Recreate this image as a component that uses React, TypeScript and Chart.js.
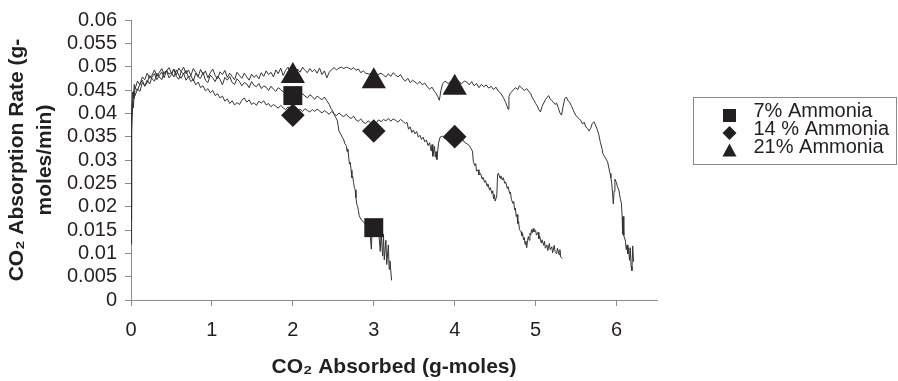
import React, { useEffect, useRef } from 'react';
import { Chart, registerables } from 'chart.js';

Chart.register(...registerables);

const FONT = "'Liberation Sans', Arial, Helvetica, sans-serif";
const INK = '#231f20';
const AXIS = '#8c8c8c';
const LINE = '#333333';

// Series labels
const seriesLabels = ['7% Ammonia', '14 % Ammonia', '21% Ammonia'];

// Continuous absorption-rate traces  [CO2 absorbed (g-moles), rate (g-moles/min)]
const trace7: [number, number][] = [
  [0, 0.012], [0.005, 0.024], [0.01, 0.036], [0.02, 0.0415], [0.03, 0.0448], [0.04, 0.0432],
  [0.05, 0.0455], [0.08, 0.0449], [0.11, 0.0463], [0.14, 0.0471], [0.17, 0.0458], [0.2, 0.0466], [0.23, 0.0481],
  [0.26, 0.0474], [0.29, 0.0469], [0.32, 0.0486], [0.35, 0.0478], [0.38, 0.0472], [0.41, 0.0488], [0.44, 0.0491],
  [0.47, 0.0476], [0.5, 0.0483], [0.53, 0.0495], [0.56, 0.0479], [0.59, 0.0473], [0.62, 0.0489], [0.65, 0.0484],
  [0.68, 0.0492], [0.71, 0.0477], [0.74, 0.0481], [0.77, 0.0469], [0.8, 0.0486], [0.83, 0.0478], [0.86, 0.0475],
  [0.89, 0.0488], [0.92, 0.0471], [0.95, 0.0466], [0.98, 0.0482], [1.01, 0.0476], [1.04, 0.0468], [1.07, 0.048],
  [1.1, 0.0473], [1.13, 0.0461], [1.16, 0.0477], [1.19, 0.0471], [1.22, 0.0479], [1.25, 0.0466], [1.28, 0.0462],
  [1.31, 0.0474], [1.34, 0.0468], [1.37, 0.0459], [1.4, 0.0466], [1.43, 0.0463], [1.46, 0.0455], [1.49, 0.0468],
  [1.52, 0.046], [1.55, 0.0457], [1.58, 0.0464], [1.61, 0.0453], [1.64, 0.0459], [1.67, 0.0456], [1.7, 0.0449],
  [1.73, 0.0458], [1.76, 0.0452], [1.79, 0.0447], [1.82, 0.0455], [1.85, 0.0451], [1.88, 0.0446], [1.91, 0.0452],
  [1.94, 0.0443], [1.97, 0.0447], [2.0, 0.0441], [2.03, 0.0445], [2.06, 0.0438], [2.09, 0.0436], [2.12, 0.0442],
  [2.15, 0.0437], [2.18, 0.0433], [2.21, 0.044], [2.24, 0.0436], [2.27, 0.043], [2.3, 0.0437], [2.33, 0.0433],
  [2.36, 0.0429], [2.39, 0.0435], [2.42, 0.0427], [2.45, 0.0419], [2.47, 0.0411], [2.49, 0.0406], [2.51, 0.0398],
  [2.53, 0.0391], [2.55, 0.0384], [2.57, 0.0362], [2.59, 0.0356], [2.61, 0.0349], [2.63, 0.0343], [2.64, 0.0336],
  [2.66, 0.0331], [2.67, 0.0318], [2.68, 0.0324], [2.69, 0.0306], [2.7, 0.0291], [2.71, 0.0295], [2.72, 0.0278],
  [2.73, 0.0262], [2.74, 0.0265], [2.75, 0.0252], [2.76, 0.0241], [2.77, 0.0236], [2.78, 0.0219], [2.79, 0.0205],
  [2.8, 0.0201], [2.81, 0.0192], [2.82, 0.0181], [2.83, 0.0177], [2.85, 0.0171], [2.87, 0.0168], [2.89, 0.0163],
  [2.91, 0.0166], [2.93, 0.0159], [2.95, 0.0152], [2.97, 0.0109], [2.98, 0.0148], [3.0, 0.0156], [3.03, 0.0151],
  [3.06, 0.0148], [3.08, 0.0104], [3.09, 0.0146], [3.11, 0.0094], [3.12, 0.0141], [3.13, 0.0086], [3.15, 0.0128],
  [3.16, 0.0076], [3.18, 0.0118], [3.19, 0.0066], [3.2, 0.0084], [3.22, 0.0042],
];

const trace14: [number, number][] = [
  [0, 0.017], [0.005, 0.029], [0.01, 0.039], [0.02, 0.0428], [0.03, 0.0412], [0.04, 0.0446],
  [0.05, 0.0438], [0.08, 0.0452], [0.11, 0.0447], [0.14, 0.0466], [0.17, 0.0459], [0.2, 0.0471], [0.23, 0.0463],
  [0.26, 0.0478], [0.29, 0.0485], [0.32, 0.0472], [0.35, 0.0481], [0.38, 0.0489], [0.41, 0.0476], [0.44, 0.0492],
  [0.47, 0.0484], [0.5, 0.0487], [0.53, 0.0478], [0.56, 0.0493], [0.59, 0.0482], [0.62, 0.0475], [0.65, 0.0486],
  [0.68, 0.0471], [0.71, 0.0479], [0.74, 0.0468], [0.77, 0.0473], [0.8, 0.0461], [0.83, 0.0467], [0.86, 0.0455],
  [0.89, 0.0459], [0.92, 0.0448], [0.95, 0.0453], [0.98, 0.0444], [1.01, 0.0449], [1.04, 0.0438], [1.07, 0.0442],
  [1.1, 0.0433], [1.13, 0.0437], [1.16, 0.0426], [1.19, 0.0431], [1.22, 0.0421], [1.25, 0.0427], [1.28, 0.0418],
  [1.31, 0.0423], [1.34, 0.0419], [1.37, 0.0428], [1.4, 0.0433], [1.43, 0.0424], [1.46, 0.0429], [1.49, 0.0419],
  [1.52, 0.0423], [1.55, 0.0417], [1.58, 0.0426], [1.61, 0.0422], [1.64, 0.0427], [1.67, 0.0418], [1.7, 0.0421],
  [1.73, 0.0414], [1.76, 0.0419], [1.79, 0.0415], [1.82, 0.0411], [1.85, 0.0417], [1.88, 0.0412], [1.91, 0.0408],
  [1.94, 0.0414], [1.97, 0.0409], [2.0, 0.0405], [2.03, 0.0411], [2.06, 0.0407], [2.09, 0.0409], [2.12, 0.0404],
  [2.15, 0.041], [2.18, 0.0406], [2.21, 0.0403], [2.24, 0.0408], [2.27, 0.0404], [2.3, 0.0409], [2.33, 0.0405],
  [2.36, 0.0401], [2.39, 0.0406], [2.42, 0.0402], [2.45, 0.0398], [2.48, 0.0404], [2.51, 0.0399], [2.54, 0.0395],
  [2.57, 0.0401], [2.6, 0.0396], [2.63, 0.0393], [2.66, 0.0398], [2.69, 0.0392], [2.72, 0.0389], [2.75, 0.0394],
  [2.78, 0.0386], [2.81, 0.0383], [2.84, 0.0388], [2.87, 0.0381], [2.9, 0.0378], [2.93, 0.0384], [2.96, 0.038],
  [3.0, 0.0383], [3.03, 0.0379], [3.06, 0.0386], [3.09, 0.0382], [3.12, 0.0387], [3.15, 0.0384], [3.18, 0.0389],
  [3.21, 0.0383], [3.24, 0.0388], [3.27, 0.0385], [3.3, 0.0381], [3.33, 0.0387], [3.36, 0.0383], [3.39, 0.0378],
  [3.41, 0.0381], [3.43, 0.0366], [3.45, 0.0371], [3.47, 0.0359], [3.49, 0.0364], [3.51, 0.0356], [3.53, 0.0361],
  [3.55, 0.0349], [3.57, 0.0353], [3.59, 0.0344], [3.61, 0.0349], [3.63, 0.0339], [3.65, 0.0343], [3.67, 0.0331],
  [3.69, 0.0337], [3.71, 0.0319], [3.72, 0.0333], [3.73, 0.0308], [3.75, 0.0329], [3.76, 0.0306], [3.77, 0.0318],
  [3.78, 0.0301], [3.8, 0.0336], [3.82, 0.0349], [3.85, 0.0351], [3.88, 0.0346], [3.91, 0.0353], [3.94, 0.0347],
  [3.97, 0.0351], [4.0, 0.0345], [4.03, 0.035], [4.06, 0.0341], [4.09, 0.0346], [4.12, 0.0338], [4.15, 0.0335],
  [4.18, 0.0331], [4.2, 0.0325], [4.22, 0.0319], [4.23, 0.0297], [4.25, 0.0288], [4.26, 0.0292], [4.27, 0.0276],
  [4.29, 0.0279], [4.3, 0.0268], [4.32, 0.0271], [4.34, 0.0259], [4.35, 0.0263], [4.37, 0.0252], [4.38, 0.0256],
  [4.4, 0.0244], [4.41, 0.0249], [4.43, 0.0236], [4.44, 0.0241], [4.46, 0.0228], [4.47, 0.0234], [4.48, 0.0217],
  [4.49, 0.0226], [4.5, 0.0212], [4.52, 0.0223], [4.53, 0.0268], [4.54, 0.0272], [4.56, 0.0261], [4.57, 0.0266],
  [4.59, 0.0257], [4.6, 0.0262], [4.62, 0.025], [4.63, 0.0253], [4.65, 0.0239], [4.66, 0.0243], [4.68, 0.0228],
  [4.69, 0.0231], [4.7, 0.0216], [4.72, 0.0207], [4.73, 0.0211], [4.74, 0.0193], [4.75, 0.0197], [4.76, 0.0179],
  [4.77, 0.0183], [4.78, 0.0164], [4.79, 0.0168], [4.8, 0.0151], [4.82, 0.0146], [4.83, 0.0138], [4.84, 0.0142],
  [4.85, 0.0129], [4.86, 0.0134], [4.87, 0.0119], [4.88, 0.0126], [4.89, 0.0112], [4.9, 0.0127], [4.91, 0.0136],
  [4.92, 0.0128], [4.93, 0.0143], [4.94, 0.0139], [4.95, 0.0151], [4.96, 0.0144], [4.97, 0.0153], [4.98, 0.0146],
  [5.0, 0.0149], [5.01, 0.0139], [5.03, 0.0145], [5.04, 0.0131], [5.05, 0.0137], [5.07, 0.0122], [5.08, 0.0129],
  [5.1, 0.0117], [5.11, 0.0126], [5.12, 0.0111], [5.14, 0.0118], [5.15, 0.0106], [5.17, 0.0121], [5.18, 0.0108],
  [5.2, 0.0114], [5.21, 0.0101], [5.23, 0.0117], [5.24, 0.0104], [5.26, 0.0099], [5.27, 0.0111], [5.29, 0.0097],
  [5.3, 0.0108], [5.31, 0.0092], [5.33, 0.0089],
];

const trace21: [number, number][] = [
  [0, 0.02], [0.005, 0.033], [0.01, 0.04], [0.02, 0.0445], [0.03, 0.0432], [0.04, 0.0462],
  [0.05, 0.0452], [0.08, 0.0469], [0.11, 0.0461], [0.14, 0.0478], [0.17, 0.0472], [0.2, 0.0486], [0.23, 0.0475],
  [0.26, 0.0482], [0.29, 0.0493], [0.32, 0.0479], [0.35, 0.0488], [0.38, 0.0496], [0.41, 0.0484], [0.44, 0.0491],
  [0.47, 0.0498], [0.5, 0.0486], [0.53, 0.0494], [0.56, 0.0482], [0.59, 0.0497], [0.62, 0.0489], [0.65, 0.0499],
  [0.68, 0.0485], [0.71, 0.0493], [0.74, 0.0481], [0.77, 0.0496], [0.8, 0.0488], [0.83, 0.0479], [0.86, 0.0494],
  [0.89, 0.0483], [0.92, 0.0491], [0.95, 0.0476], [0.98, 0.0487], [1.01, 0.0495], [1.04, 0.0481], [1.07, 0.0474],
  [1.1, 0.0489], [1.13, 0.0483], [1.16, 0.0492], [1.19, 0.0477], [1.22, 0.0486], [1.25, 0.0479], [1.28, 0.0472],
  [1.31, 0.0488], [1.34, 0.0481], [1.37, 0.0475], [1.4, 0.0486], [1.43, 0.0478], [1.46, 0.0471], [1.49, 0.0484],
  [1.52, 0.0477], [1.55, 0.0482], [1.58, 0.0474], [1.61, 0.0487], [1.64, 0.0479], [1.67, 0.0491], [1.7, 0.0483],
  [1.73, 0.0488], [1.76, 0.0478], [1.79, 0.0493], [1.82, 0.0485], [1.85, 0.0497], [1.88, 0.0481], [1.91, 0.0492],
  [1.94, 0.0499], [1.97, 0.0486], [2.0, 0.0491], [2.03, 0.0484], [2.06, 0.0495], [2.09, 0.0488], [2.12, 0.0499],
  [2.15, 0.0492], [2.18, 0.0487], [2.21, 0.0496], [2.24, 0.0489], [2.27, 0.0494], [2.3, 0.0486], [2.33, 0.0497],
  [2.36, 0.0483], [2.39, 0.0491], [2.42, 0.0476], [2.45, 0.0488], [2.48, 0.0494], [2.51, 0.0498], [2.54, 0.0493],
  [2.57, 0.0497], [2.6, 0.0499], [2.63, 0.0496], [2.66, 0.0499], [2.69, 0.0497], [2.72, 0.0494], [2.75, 0.0498],
  [2.78, 0.0492], [2.81, 0.0495], [2.84, 0.0487], [2.87, 0.0491], [2.9, 0.0486], [2.95, 0.0484], [3.0, 0.0488],
  [3.05, 0.0483], [3.09, 0.0486], [3.12, 0.0482], [3.15, 0.0478], [3.18, 0.0485], [3.21, 0.0479], [3.24, 0.0487],
  [3.27, 0.0482], [3.3, 0.0478], [3.33, 0.0483], [3.36, 0.0474], [3.39, 0.0469], [3.42, 0.0475], [3.45, 0.0466],
  [3.48, 0.0471], [3.51, 0.0467], [3.54, 0.0463], [3.57, 0.0468], [3.6, 0.0461], [3.63, 0.0465], [3.66, 0.0457],
  [3.69, 0.0452], [3.72, 0.0456], [3.75, 0.0447], [3.77, 0.0443], [3.79, 0.0436], [3.81, 0.0428], [3.83, 0.0449],
  [3.85, 0.0463], [3.88, 0.0469], [3.92, 0.0464], [3.96, 0.047], [4.0, 0.0465], [4.04, 0.0471], [4.08, 0.0463],
  [4.12, 0.0469], [4.15, 0.0467], [4.18, 0.0461], [4.21, 0.0468], [4.24, 0.0459], [4.27, 0.0464], [4.3, 0.0455],
  [4.33, 0.0462], [4.36, 0.0457], [4.39, 0.0461], [4.42, 0.0454], [4.45, 0.0458], [4.48, 0.0451], [4.51, 0.0456],
  [4.54, 0.0447], [4.57, 0.0443], [4.59, 0.0437], [4.61, 0.0431], [4.63, 0.0423], [4.65, 0.0414], [4.66, 0.0409],
  [4.67, 0.0436], [4.69, 0.0444], [4.72, 0.0449], [4.75, 0.0455], [4.78, 0.0451], [4.8, 0.0459], [4.83, 0.0454],
  [4.86, 0.0449], [4.89, 0.0453], [4.92, 0.0446], [4.94, 0.0442], [4.96, 0.0433], [4.98, 0.0428], [5.0, 0.0421],
  [5.02, 0.0416], [5.04, 0.0408], [5.06, 0.0403], [5.08, 0.0415], [5.1, 0.0422], [5.12, 0.0429], [5.14, 0.0434],
  [5.16, 0.0438], [5.18, 0.0431], [5.2, 0.0427], [5.22, 0.0424], [5.24, 0.0419], [5.26, 0.0422], [5.28, 0.0412],
  [5.3, 0.0401], [5.32, 0.0396], [5.34, 0.0415], [5.36, 0.0431], [5.38, 0.0435], [5.4, 0.0427], [5.42, 0.0424],
  [5.44, 0.0417], [5.46, 0.0409], [5.48, 0.0401], [5.5, 0.0395], [5.52, 0.0391], [5.54, 0.0388], [5.56, 0.0384],
  [5.58, 0.0377], [5.6, 0.0381], [5.62, 0.0371], [5.64, 0.0368], [5.66, 0.0362], [5.68, 0.0368], [5.7, 0.0378],
  [5.72, 0.0382], [5.74, 0.0375], [5.76, 0.0366], [5.78, 0.0355], [5.8, 0.0338], [5.82, 0.0325], [5.83, 0.0314],
  [5.85, 0.0308], [5.87, 0.0302], [5.89, 0.0296], [5.9, 0.0287], [5.92, 0.0271], [5.93, 0.0262], [5.94, 0.0251],
  [5.95, 0.0231], [5.96, 0.0206], [5.97, 0.0233], [5.98, 0.0259], [6.0, 0.0251], [6.01, 0.0243], [6.03, 0.0235],
  [6.04, 0.0223], [6.05, 0.0215], [6.06, 0.0207], [6.07, 0.0176], [6.075, 0.0141], [6.08, 0.0179], [6.09, 0.0138],
  [6.11, 0.0126], [6.12, 0.0108], [6.13, 0.0118], [6.14, 0.0099], [6.15, 0.0112], [6.16, 0.0085], [6.17, 0.0112],
  [6.18, 0.0072], [6.19, 0.0063], [6.2, 0.0116], [6.21, 0.0082],
];

// Marker points
const markerX7 = [2, 3];
const markerY7 = [0.0438, 0.0155];
const markerX14 = [2, 3, 4];
const markerY14 = [0.0396, 0.0362, 0.035];
const markerX21 = [2, 3, 4];
const markerY21 = [0.048, 0.0469, 0.0455];

const markerStyles = ['rect', 'rectRot', 'triangle'];
const markerRadii = [13.4, 11.8, 14];

const toXY = (arr: [number, number][]) => arr.map(([x, y]) => ({ x, y }));
const zipXY = (xs: number[], ys: number[]) => xs.map((x, i) => ({ x, y: ys[i] }));

const boxLegend = {
  id: 'boxLegend',
  afterDraw(chart: any) {
    const ctx = chart.ctx as CanvasRenderingContext2D;
    const left = chart.chartArea.right + 36.5;
    const top = 97.5;
    ctx.save();
    ctx.strokeStyle = '#8a8a8a';
    ctx.lineWidth = 1;
    ctx.strokeRect(left, top, 203, 67);
    const markers = chart.data.datasets.filter((d: any) => d.isMarker);
    markers.forEach((d: any, i: number) => {
      const cy = 115.5 + i * 17.5;
      const cx = left + 36;
      ctx.fillStyle = INK;
      ctx.beginPath();
      if (d.pointStyle === 'rect') {
        ctx.rect(cx - 6.5, cy - 6.5, 13, 13);
      } else if (d.pointStyle === 'rectRot') {
        ctx.moveTo(cx, cy - 7);
        ctx.lineTo(cx + 7, cy);
        ctx.lineTo(cx, cy + 7);
        ctx.lineTo(cx - 7, cy);
        ctx.closePath();
      } else {
        ctx.moveTo(cx, cy - 7);
        ctx.lineTo(cx + 7, cy + 6);
        ctx.lineTo(cx - 7, cy + 6);
        ctx.closePath();
      }
      ctx.fill();
      ctx.font = `20px ${FONT}`;
      ctx.textBaseline = 'alphabetic';
      ctx.textAlign = 'left';
      ctx.fillText(d.label, left + 60, 117 + i * 18);
    });
    ctx.restore();
  },
};

export default function App() {
  const ref = useRef<HTMLCanvasElement>(null);

  useEffect(() => {
    document.body.style.margin = '0';
    const lineDs = (label: string, data: [number, number][]) => ({
      label,
      data: toXY(data),
      showLine: true,
      borderColor: LINE,
      borderWidth: 1,
      pointRadius: 0,
      tension: 0,
      order: 2,
    });
    const markerDs = (i: number, xs: number[], ys: number[]) => ({
      label: seriesLabels[i],
      isMarker: true,
      data: zipXY(xs, ys),
      showLine: false,
      pointStyle: markerStyles[i],
      pointRadius: markerRadii[i],
      pointBackgroundColor: INK,
      pointBorderColor: INK,
      pointBorderWidth: 0,
      order: 1,
    });

    const chart = new Chart(ref.current!, {
      type: 'scatter',
      data: {
        datasets: [
          markerDs(0, markerX7, markerY7),
          markerDs(1, markerX14, markerY14),
          markerDs(2, markerX21, markerY21),
          lineDs(seriesLabels[0] + ' trace', trace7),
          lineDs(seriesLabels[1] + ' trace', trace14),
          lineDs(seriesLabels[2] + ' trace', trace21),
        ] as any,
      },
      options: {
        animation: false,
        responsive: false,
        events: [],
        layout: { padding: { left: 0, top: 15, right: 241, bottom: 0 } },
        plugins: { legend: { display: false }, tooltip: { enabled: false } },
        scales: {
          x: {
            type: 'linear',
            min: 0,
            max: 6.5,
            border: { color: AXIS, width: 1 },
            grid: { display: true, drawOnChartArea: false, drawTicks: true, tickLength: 6, color: AXIS },
            ticks: {
              stepSize: 1,
              includeBounds: false,
              autoSkip: false,
              maxRotation: 0,
              padding: 12,
              color: INK,
              font: { family: FONT, size: 20 },
              callback: (v: any) => String(v),
            },
            title: {
              display: true,
              text: 'CO₂ Absorbed (g-moles)',
              color: INK,
              font: { family: FONT, size: 21, weight: 'bold' },
              padding: { top: 0, bottom: 1 },
            },
            afterFit: (s: any) => {
              s.height = 81;
            },
          },
          y: {
            type: 'linear',
            min: 0,
            max: 0.06,
            border: { color: AXIS, width: 1 },
            grid: { display: true, drawOnChartArea: false, drawTicks: true, tickLength: 6, color: AXIS },
            ticks: {
              stepSize: 0.005,
              autoSkip: false,
              padding: 8,
              color: INK,
              font: { family: FONT, size: 20 },
              callback: (v: any) => String(+Number(v).toFixed(3)),
            },
            title: {
              display: true,
              text: ['CO₂ Absorption Rate (g-', 'moles/min)'],
              color: INK,
              font: { family: FONT, size: 21, weight: 'bold', lineHeight: 1.33 },
              padding: { top: 3, bottom: 0 },
            },
            afterFit: (s: any) => {
              s.width = 131;
            },
          },
        },
      } as any,
      plugins: [boxLegend],
    });
    return () => chart.destroy();
  }, []);

  return (
    <div style={{ width: 898, height: 381 }}>
      <canvas ref={ref} width={898} height={381} style={{ display: 'block' }} />
    </div>
  );
}
